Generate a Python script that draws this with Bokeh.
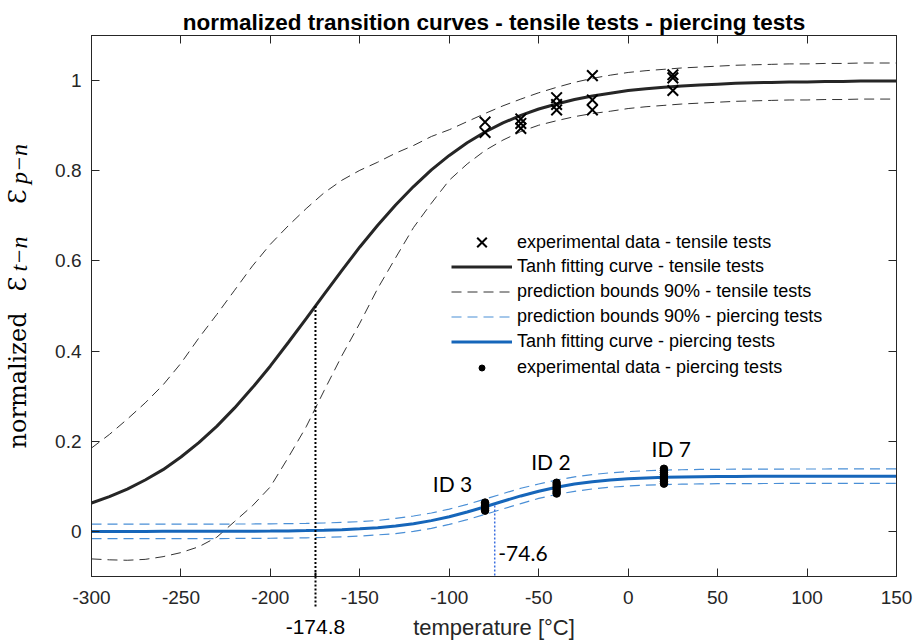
from bokeh.plotting import figure
from bokeh.models import (Range1d, LinearAxis, FixedTicker, Label, Legend,
                          LegendItem, AllLabels)
from bokeh.embed import file_html
from bokeh.resources import INLINE

# ---------------- data ----------------
temps = [-300, -290, -280, -270, -260, -250, -240, -230, -220, -210,
         -200, -190, -180, -170, -160, -150, -140, -130, -120, -110,
         -100, -90, -80, -70, -60, -50, -40, -30, -20, -10,
         0, 10, 20, 30, 40, 50, 60, 70, 80, 90,
         100, 110, 120, 130, 140, 150]

tensile_fit = [0.063, 0.077, 0.094, 0.114, 0.137, 0.165, 0.197, 0.233, 0.274, 0.319,
               0.367, 0.419, 0.472, 0.526, 0.579, 0.631, 0.679, 0.724, 0.765, 0.802,
               0.834, 0.862, 0.886, 0.906, 0.923, 0.937, 0.948, 0.958, 0.966, 0.972,
               0.978, 0.982, 0.985, 0.988, 0.990, 0.992, 0.994, 0.995, 0.996, 0.997,
               0.997, 0.998, 0.998, 0.999, 0.999, 0.999]
tensile_upper = [0.185, 0.215, 0.249, 0.285, 0.325, 0.373, 0.429, 0.481, 0.535, 0.589,
                 0.637, 0.678, 0.716, 0.751, 0.779, 0.801, 0.819, 0.839, 0.856, 0.876,
                 0.891, 0.909, 0.927, 0.944, 0.959, 0.973, 0.985, 0.996, 1.005, 1.012,
                 1.018, 1.022, 1.025, 1.028, 1.030, 1.032, 1.034, 1.035, 1.036, 1.037,
                 1.037, 1.038, 1.038, 1.039, 1.039, 1.039]
tensile_lower = [-0.061, -0.063, -0.064, -0.062, -0.056, -0.047, -0.034, -0.013, 0.022, 0.057,
                 0.099, 0.164, 0.232, 0.312, 0.390, 0.462, 0.539, 0.607, 0.674, 0.728,
                 0.779, 0.815, 0.845, 0.868, 0.887, 0.901, 0.911, 0.920, 0.927, 0.932,
                 0.938, 0.942, 0.945, 0.948, 0.950, 0.952, 0.954, 0.955, 0.956, 0.957,
                 0.957, 0.958, 0.958, 0.959, 0.959, 0.959]

piercing_fit = [0.0000, 0.0000, 0.0000, 0.0000, 0.0001, 0.0001, 0.0002, 0.0002, 0.0004, 0.0005,
                0.0008, 0.0012, 0.0018, 0.0027, 0.0039, 0.0057, 0.0083, 0.0121, 0.0172, 0.0239,
                0.0326, 0.0430, 0.0547, 0.0669, 0.0787, 0.0892, 0.0980, 0.1050, 0.1102, 0.1140,
                0.1167, 0.1186, 0.1199, 0.1208, 0.1214, 0.1218, 0.1220, 0.1222, 0.1223, 0.1224,
                0.1225, 0.1225, 0.1226, 0.1226, 0.1226, 0.1226]
piercing_upper = [0.0160, 0.0160, 0.0160, 0.0160, 0.0161, 0.0161, 0.0162, 0.0162, 0.0164, 0.0165,
                  0.0168, 0.0172, 0.0178, 0.0187, 0.0199, 0.0217, 0.0243, 0.0291, 0.0342, 0.0409,
                  0.0496, 0.0600, 0.0717, 0.0839, 0.0957, 0.1052, 0.1140, 0.1210, 0.1262, 0.1300,
                  0.1327, 0.1346, 0.1359, 0.1368, 0.1374, 0.1378, 0.1380, 0.1382, 0.1383, 0.1384,
                  0.1385, 0.1385, 0.1386, 0.1386, 0.1386, 0.1386]
piercing_lower = [-0.0160, -0.0160, -0.0160, -0.0160, -0.0159, -0.0159, -0.0158, -0.0158, -0.0156, -0.0155,
                  -0.0152, -0.0148, -0.0142, -0.0133, -0.0121, -0.0103, -0.0077, -0.0049, 0.0002, 0.0069,
                  0.0156, 0.0260, 0.0377, 0.0499, 0.0617, 0.0732, 0.0820, 0.0890, 0.0942, 0.0980,
                  0.1007, 0.1026, 0.1039, 0.1048, 0.1054, 0.1058, 0.1060, 0.1062, 0.1063, 0.1064,
                  0.1065, 0.1065, 0.1066, 0.1066, 0.1066, 0.1066]

tensile_T = [-80, -80, -60, -60, -60, -40, -40, -40, -20, -20, -20, 25, 25, 25]
tensile_eps = [0.908, 0.885, 0.915, 0.905, 0.894, 0.962, 0.947, 0.935,
               1.011, 0.957, 0.935, 1.013, 1.006, 0.978]

piercing_T = [-80, -80, -80, -80, -80, -80,
              -40, -40, -40, -40, -40, -40,
              20, 20, 20, 20, 20, 20, 20, 20]
piercing_eps = [0.046, 0.050, 0.054, 0.058, 0.061, 0.064,
                0.084, 0.088, 0.093, 0.098, 0.103, 0.108,
                0.106, 0.111, 0.116, 0.121, 0.126, 0.131, 0.135, 0.139]

T_transition_tensile = -174.8
eps_transition_tensile = 0.5
T_transition_piercing = -74.6
eps_transition_piercing = 0.0577

id_labels = ["ID 3", "ID 2", "ID 7"]

title_text = "normalized transition curves - tensile tests - piercing tests"
x_label = "temperature [°C]"
x_ticks = [-300, -250, -200, -150, -100, -50, 0, 50, 100, 150]
x_tick_labels = ["-300", "-250", "-200", "-150", "-100", "-50", "0", "50", "100", "150"]
y_ticks = [0, 0.2, 0.4, 0.6, 0.8, 1]
y_tick_labels = ["0", "0.2", "0.4", "0.6", "0.8", "1"]

XMIN, XMAX, YMIN, YMAX = -300, 150, -0.1, 1.1

# ---------------- layout ----------------
W, H = 915, 642
BL, BR, BT, BB = 90, 19, 35, 66
FW, FH = W - BL - BR, H - BT - BB


def tx(page_x):
    return XMIN + (page_x - BL) * (XMAX - XMIN) / FW


def ty(page_y):
    return YMIN + (H - BB - page_y) * (YMAX - YMIN) / FH


AX = "#262626"
SANS = "Liberation Sans"

p = figure(width=W, height=H, x_range=Range1d(XMIN, XMAX), y_range=Range1d(YMIN, YMAX),
           output_backend="svg", toolbar_location=None,
           min_border_left=BL, min_border_right=BR, min_border_top=BT, min_border_bottom=BB,
           background_fill_color="white", border_fill_color="white")
p.xgrid.grid_line_color = None
p.ygrid.grid_line_color = None
p.outline_line_color = AX

p.title.text = title_text
p.title.align = "center"
p.title.text_font = SANS
p.title.text_font_size = "22.5px"
p.title.text_font_style = "bold"
p.title.text_color = "black"
p.title.standoff = 2


def style_axis(ax, ticks, labels, show, standoff=10):
    ax.ticker = FixedTicker(ticks=ticks)
    ax.minor_tick_line_color = None
    ax.major_tick_in = 8
    ax.major_tick_out = 0
    ax.major_tick_line_color = AX
    ax.axis_line_color = AX
    ax.axis_line_width = 1
    ax.major_label_text_color = AX
    ax.major_label_text_font = SANS
    if show:
        ax.major_label_overrides = {t: l for t, l in zip(ticks, labels)}
        ax.major_label_text_font_size = "19px"
        ax.major_label_standoff = standoff
    else:
        ax.major_label_overrides = {t: "" for t in ticks}
        ax.major_label_text_font_size = "1px"
        ax.major_label_standoff = 0


style_axis(p.xaxis[0], x_ticks, x_tick_labels, True, standoff=14)
style_axis(p.yaxis[0], y_ticks, y_tick_labels, True, standoff=10)
top_axis = LinearAxis()
right_axis = LinearAxis()
style_axis(top_axis, x_ticks, x_tick_labels, False)
style_axis(right_axis, y_ticks, y_tick_labels, False)
p.add_layout(top_axis, "above")
p.add_layout(right_axis, "right")

# second bottom axis: dotted marker of the tensile transition temperature + x label
bottom2 = LinearAxis(ticker=FixedTicker(ticks=[T_transition_tensile]),
                     major_label_overrides={T_transition_tensile: str(T_transition_tensile)},
                     major_tick_in=35, major_tick_out=0,
                     major_tick_line_color="black", major_tick_line_width=2,
                     major_tick_line_dash="2 2", minor_tick_line_color=None,
                     axis_line_color=None, major_label_standoff=13,
                     major_label_text_font=SANS, major_label_text_font_size="21px",
                     major_label_text_color="black",
                     axis_label=x_label, axis_label_standoff=-22,
                     axis_label_text_font=SANS, axis_label_text_font_size="22px",
                     axis_label_text_font_style="normal", axis_label_text_color=AX)
p.add_layout(bottom2, "below")

# y-axis title pieces as tick labels of label-only axes
y_sub_pos = [ty(253.5), ty(163.5)]
y_sub_text = ["t\u2212n", "p\u2212n"]
y_main_pos = [ty(380), ty(283.5), ty(196)]
y_main_text = ["normalized", "\u0190", "\u0190"]

left_sub = LinearAxis(ticker=FixedTicker(ticks=y_sub_pos),
                      major_label_overrides=dict(zip(y_sub_pos, y_sub_text)),
                      major_label_orientation="parallel", major_label_policy=AllLabels(),
                      major_tick_line_color=None, minor_tick_line_color=None,
                      axis_line_color=None, major_label_standoff=15,
                      major_label_text_font="Liberation Serif",
                      major_label_text_font_style="italic",
                      major_label_text_font_size="24px", major_label_text_color="black")
left_main = LinearAxis(ticker=FixedTicker(ticks=y_main_pos),
                       major_label_overrides=dict(zip(y_main_pos, y_main_text)),
                       major_label_orientation="parallel", major_label_policy=AllLabels(),
                       major_tick_line_color=None, minor_tick_line_color=None,
                       axis_line_color=None, major_label_standoff=-35,
                       major_label_text_font="DejaVu Serif",
                       major_label_text_font_size="24px", major_label_text_color="black")
p.add_layout(left_sub, "left")
p.add_layout(left_main, "left")

# ---------------- glyphs ----------------
BLUE = "#1666ba"
BLUE_D = "#4a8fd6"
DASH = "10 6"

r_tu = p.line(temps, tensile_upper, line_color="#333333", line_width=1, line_dash=DASH)
p.line(temps, tensile_lower, line_color="#333333", line_width=1, line_dash=DASH)
r_pu = p.line(temps, piercing_upper, line_color=BLUE_D, line_width=1.2, line_dash=DASH)
p.line(temps, piercing_lower, line_color=BLUE_D, line_width=1.2, line_dash=DASH)
r_tf = p.line(temps, tensile_fit, line_color="#262626", line_width=3)
r_pf = p.line(temps, piercing_fit, line_color=BLUE, line_width=3)

p.segment(x0=[T_transition_tensile], y0=[eps_transition_tensile],
          x1=[T_transition_tensile], y1=[YMIN],
          line_color="black", line_width=2, line_dash="2 2")
p.segment(x0=[T_transition_piercing], y0=[eps_transition_piercing],
          x1=[T_transition_piercing], y1=[YMIN],
          line_color="#3a6ee0", line_width=1.5, line_dash="2 2")

r_tx = p.scatter(tensile_T, tensile_eps, marker="x", size=15, line_width=2, line_color="black")
r_pd = p.scatter(piercing_T, piercing_eps, marker="circle", size=7.5,
                 fill_color="black", line_color="black")

LEG = dict(border_line_color=None, background_fill_alpha=0, padding=0, margin=0,
           spacing=0, label_standoff=5, glyph_width=61, label_text_font=SANS,
           label_text_font_size="18px", label_text_color="black")
legend_a = Legend(items=[LegendItem(label="experimental data - tensile tests", renderers=[r_tx])],
                  location=(360, 317), glyph_height=34, label_height=34, **LEG)
legend_b = Legend(items=[
    LegendItem(label="Tanh fitting curve - tensile tests", renderers=[r_tf]),
    LegendItem(label="prediction bounds 90% - tensile tests", renderers=[r_tu]),
    LegendItem(label="prediction bounds 90% - piercing tests", renderers=[r_pu]),
    LegendItem(label="Tanh fitting curve - piercing tests", renderers=[r_pf]),
], location=(360, 222), glyph_height=25, label_height=25, **LEG)
legend_c = Legend(items=[LegendItem(label="experimental data - piercing tests", renderers=[r_pd])],
                  location=(360, 198), glyph_height=15, label_height=15, **LEG)
for lg in (legend_a, legend_b, legend_c):
    p.add_layout(lg)


def add_label(text, px, py, size="21px", font="Lato"):
    p.add_layout(Label(x=tx(px), y=ty(py), text=text, text_font=font,
                       text_font_size=size, text_align="center",
                       text_baseline="middle", text_color="black"))


add_label(str(T_transition_piercing), 522, 553)
add_label(id_labels[0], 451.5, 482.5)
add_label(id_labels[1], 550, 460.5)
add_label(id_labels[2], 670.5, 448)

open("out.html", "w").write(file_html(p, INLINE))
